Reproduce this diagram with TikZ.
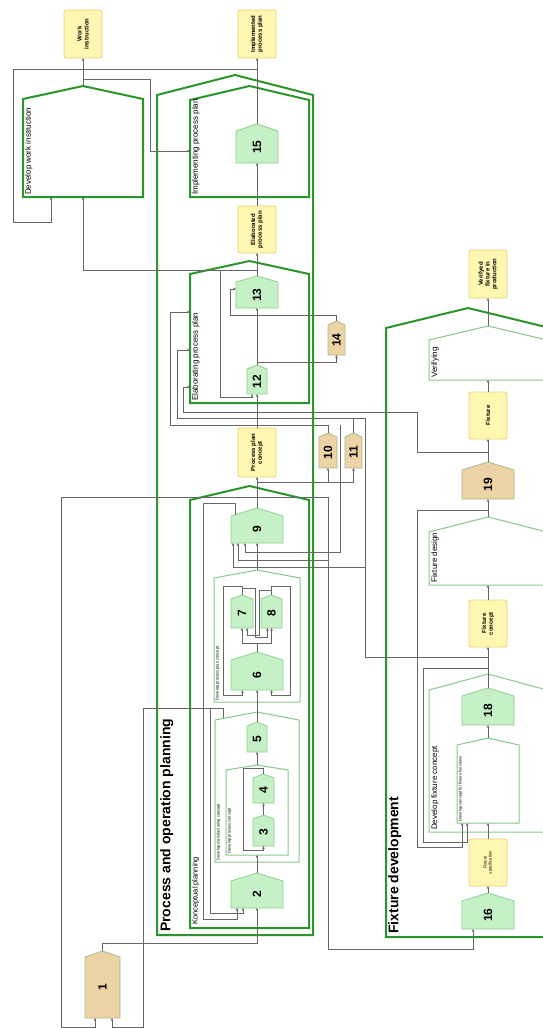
\documentclass[tikz,border=0pt]{standalone}
\usepackage{fontspec}
\setmainfont{Liberation Sans}
\usetikzlibrary{arrows.meta}
\definecolor{dkgreen}{HTML}{2A962A}
\definecolor{ltgreen}{HTML}{86C986}
\definecolor{nodegreen}{HTML}{C6F0C6}
\definecolor{nodegreenb}{HTML}{8ECF8E}
\definecolor{tanfill}{HTML}{EBD3A5}
\definecolor{tanb}{HTML}{A9B98E}
\definecolor{yelfill}{HTML}{FFF7B2}
\definecolor{yelb}{HTML}{E8D26C}
\definecolor{linegray}{HTML}{666666}
\tikzset{
 conn/.style={draw=linegray, line width=0.85pt},
 arr/.style={conn, -{Stealth[length=3pt,width=2.6pt]}},
 bigframe/.style={draw=dkgreen, line width=2pt},
 smallframe/.style={draw=ltgreen, line width=1pt},
 gnode/.style={draw=nodegreenb, fill=nodegreen, line width=0.8pt},
 tnode/.style={draw=tanb, fill=tanfill, line width=0.8pt},
 ybox/.style={draw=yelb, fill=yelfill, line width=0.8pt, rounded corners=2pt, inner sep=0pt, outer sep=0pt},
 ylab/.style={rotate=90, align=center, inner sep=0pt, font=\bfseries\fontsize{6}{6.8}\selectfont},
 numlab/.style={rotate=90, inner sep=0pt, font=\bfseries\fontsize{12}{12}\selectfont},
 framelab/.style={rotate=90, anchor=north west, inner sep=1pt, font=\fontsize{8}{9}\selectfont},
 tinylab/.style={rotate=90, anchor=north west, inner sep=0.6pt, font=\fontsize{4}{4.5}\selectfont},
 titlelab/.style={rotate=90, anchor=north west, inner sep=1pt, font=\bfseries\fontsize{14}{14}\selectfont},
}
% house shape: name, style, xl, xr, ypeak, yshoulder, ybottom, text
\newcommand\hshape[8]{%
 \draw[#2] (#3,#6) -- ({(#3+#4)/2},#5) -- (#4,#6) -- (#4,#7) -- (#3,#7) -- cycle;
 \node[inner sep=0pt, outer sep=0pt, minimum width={(#4-#3)*1pt}, minimum height={(#7-#5)*1pt}] (#1) at ({(#3+#4)/2},{(#5+#7)/2}) {};
 \node[numlab] at ({(#3+#4)/2},{(#6+#7)/2}) {#8};}
% yellow box: name, xl, xr, ytop, ybottom, text
\newcommand\ybx[6]{%
 \node[ybox, minimum width={(#3-#2)*1pt}, minimum height={(#5-#4)*1pt}] (#1) at ({(#2+#3)/2},{(#4+#5)/2}) {};
 \node[ylab] at (#1) {#6};}
\begin{document}
\begin{tikzpicture}[x=1pt,y=-1pt]
\useasboundingbox (0,0) rectangle (543,1028);
\clip (0,0) rectangle (543,1028);
\fill[white] (0,0) rectangle (543,1028);

% ---------- frames ----------
\hshape{Fpop}{bigframe}{157}{313}{75}{95}{935}{}
\hshape{Fimpl}{bigframe}{190}{309}{86}{100}{197}{}
\hshape{dwi}{bigframe}{23}{143}{86}{99}{197}{}
\hshape{Felab}{bigframe}{190}{309}{261}{274}{403}{}
\hshape{Fkonc}{bigframe}{190}{309}{486}{500}{928}{}
\hshape{Ffix}{bigframe}{386}{550}{308}{328}{937}{}
\hshape{dppc}{smallframe}{214}{300}{570}{578}{702}{}
\hshape{dmc}{smallframe}{215}{299}{712}{720}{862}{}
\hshape{dpc}{smallframe}{226}{288}{765}{770}{855}{}
\hshape{ver}{smallframe}{429}{547}{326}{340}{380}{}
\hshape{fd}{smallframe}{429}{547}{517}{532}{585}{}
\hshape{dfc}{smallframe}{429}{547}{674}{690}{832}{}
\hshape{dcff}{smallframe}{457}{519}{738}{745}{823}{}

\node[titlelab] at (159,933) {Process and operation planning};
\node[titlelab] at (387,935) {Fixture development};
\node[framelab] at (24,196) {Develop work instruction};
\node[framelab] at (191,196) {Implementing process plan};
\node[framelab] at (191,402) {Elaborating process plan};
\node[framelab, font=\fontsize{7.5}{8}\selectfont] at (191,926) {Konceptual planning};
\node[framelab] at (430,379) {Verifying};
\node[framelab] at (430,584) {Fixture design};
\node[framelab] at (430,831) {Develop fixture concept};
\node[tinylab] at (215,701) {Develop process plan concept};
\node[tinylab] at (216,861) {Develop manufacturing concept};
\node[tinylab] at (227,854) {Develop process concept};
\node[tinylab] at (458,822) {Develop concept for fixture functions};

% ---------- nodes ----------
\hshape{n15}{gnode}{236}{278}{124}{131}{163}{15}
\hshape{n13}{gnode}{236}{278}{276}{282}{308}{13}
\hshape{n12}{gnode}{247}{267}{365}{369}{394}{12}
\hshape{n14}{tnode}{328}{345}{321}{325}{355}{14}
\hshape{n10}{tnode}{319}{337}{433}{437}{468}{10}
\hshape{n11}{tnode}{345}{362}{433}{437}{468}{11}
\hshape{n9}{gnode}{231}{283}{508}{516}{543}{9}
\hshape{n7}{gnode}{231}{253}{595}{599}{628}{7}
\hshape{n8}{gnode}{261}{282}{595}{599}{628}{8}
\hshape{n6}{gnode}{231}{283}{652}{660}{690}{6}
\hshape{n5}{gnode}{247}{267}{722}{726}{752}{5}
\hshape{n4}{gnode}{253}{274}{774}{778}{803}{4}
\hshape{n3}{gnode}{253}{274}{815}{819}{846}{3}
\hshape{n2}{gnode}{231}{283}{873}{881}{908}{2}
\hshape{n1}{tnode}{85}{120}{951}{957}{1018}{1}
\hshape{n19}{tnode}{462}{514}{462}{470}{499}{19}
\hshape{n18}{gnode}{462}{514}{688}{696}{725}{18}
\hshape{n16}{gnode}{462}{514}{893}{901}{929}{16}

\ybx{wi}{64}{102}{10}{58}{Work\\instruction}
\ybx{ipp}{238}{276}{10}{58}{Implemented\\process plan}
\ybx{epp}{238}{276}{206}{253}{Elaborated\\process plan}
\ybx{ppc}{238}{276}{428}{477}{Process plan\\concept}
\ybx{vf}{469}{507}{250}{298}{Verifyed\\fixture in\\production}
\ybx{fx}{469}{507}{392}{439}{Fixture}
\ybx{fc}{469}{507}{600}{647}{Fixture\\concept}
\node[ybox, minimum width=38pt, minimum height=47pt] (fs) at (488,862.5) {};
\node[ylab, font=\fontsize{4.2}{5}\selectfont] at (fs) {Fixture\\specification};

% ---------- connectors: process planning ----------
\draw[arr] (n1.north) -- (102.5,943) -| (n2.south);
\draw[arr] (n2.north) -- (dpc.south);
\draw[arr] (n3.north) -- (n4.south);
\draw[arr] (n4.north) |- (243,768) -- (243,850) -| (n3.south);
\draw[arr] (dpc.north) -- (n5.south);
\draw[arr] (n5.north) -- (n6.south);
\draw[arr] (n6.north) -- (257,643) -| (n7.south);
\draw[arr] (257,643) -| (n8.south);
\draw[arr] (n7.north) |- (255,588) -- (255,637) -| (267.5,628);
\draw[arr] (n8.north) |- (259,590) -- (259,635) -| (247,628);
\draw[arr] (n7.north) |- (223,586) -- (223,695) -| (242.5,690);
\draw[arr] (n8.north) |- (290,586) -- (290,695) -| (271.5,690);
\draw[arr] (dppc.north) -- (n9.south);
\draw[arr] (n9.north) -- (ppc.south);
\draw[arr] (257,482) -| (n11.south);
\draw[arr] (328,482) -- (n10.south);
\draw[arr] (ppc.north) -- (n12.south);
\draw[arr] (n12.north) -- (n13.south);
\draw[arr] (257,362) -| (n14.south);
\draw[arr] (n14.north) |- (230,315) |- (236,289);
\draw[arr] (257,270) -| (220,397) -| (252,394);
\draw[arr] (n13.north) -- (epp.south);
\draw[arr] (257,270) -| (dwi.south);
\draw[arr] (epp.north) -- (n15.south);
\draw[arr] (n15.north) -- (ipp.south);
\draw[arr] (257,69) -| (13,222) -| (51,197);
\draw[arr] (dwi.north) -- (wi.south);
\draw[arr] (83,79) -| (150,151) -- (190,151);

% inputs to elaborating process plan
\draw[arr] (488,452) -| (417,412) -| (183,387) -- (190,387);
\draw[arr] (n11.north) |- (177,418) |- (190,350);
\draw[arr] (n10.north) |- (170,425) |- (190,312);
\draw[conn] (488,657) -| (365,418) -- (353.5,418);
% inputs to 9
\draw[arr] (340,425) |- (245,552) -- (245,543);
\draw[arr] (328,560) -| (238,543);
\draw[arr] (365,567) -| (233,543);
% long feedback lines
\draw[arr] (328,497) -- (328,949) -| (473,929);
\draw[arr] (328,497) -| (61,1027) -| (95,1018);
\draw[arr] (223,718) |- (143,708) -- (143,1027) -| (112,1018);
\draw[arr] (210,708) -- (210,913) -| (243,908);
\draw[arr] (235,514.7) |- (203,503) -- (203,919) -| (237,908);

% ---------- connectors: fixture development ----------
\draw[arr] (n16.north) -- (fs.south);
\draw[arr] (fs.north) -- (dcff.south);
\draw[arr] (dcff.north) -- (n18.south);
\draw[arr] (n18.north) -- (fc.south);
\draw[arr] (fc.north) -- (fd.south);
\draw[arr] (fd.north) -- (n19.south);
\draw[arr] (n19.north) -- (fx.south);
\draw[arr] (fx.north) -- (ver.south);
\draw[arr] (ver.north) -- (vf.south);
\draw[arr] (488,510) -| (417,847) -| (462,823);
\draw[arr] (488,668) -| (423,842) -| (467,823);
\end{tikzpicture}
\end{document}
